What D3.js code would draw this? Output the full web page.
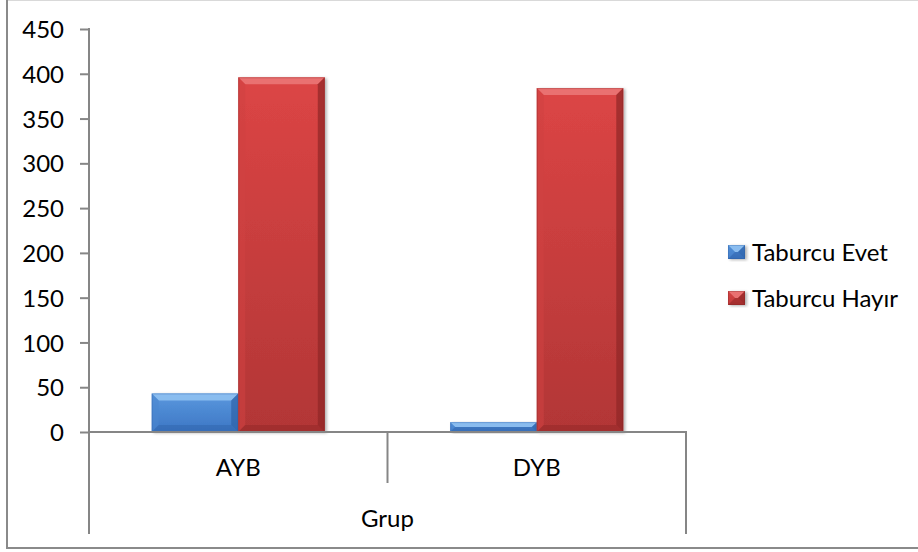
<!DOCTYPE html>
<html>
<head>
<meta charset="utf-8">
<script src="https://cdn.jsdelivr.net/npm/d3@7"></script>
<style>
  html, body { margin: 0; padding: 0; background: #fff; }
  svg { display: block; }
  text { font-family: Lato, "Open Sans", "DejaVu Sans", sans-serif; fill: #000; }
</style>
</head>
<body>
<svg id="chart" width="918" height="552"></svg>
<script>
// Discharge status per group
const groups = ["AYB", "DYB"];
const seriesNames = ["Taburcu Evet", "Taburcu Hayır"];
const evetValues = [43, 11];
const hayirValues = [396, 384];
const yTicks = [0, 50, 100, 150, 200, 250, 300, 350, 400, 450];
const axisTitle = "Grup";

const seriesValues = [evetValues, hayirValues];
const palette = [
  { top: "#5a98de", bot: "#3c76c4", light: "#8dbff0", side: "#4a86d0", dark: "#2f62a8", edge: "#2a5a9e" },
  { top: "#dc4545", bot: "#b23636", light: "#ea7474", side: "#cf4242", dark: "#8e2626", edge: "#7d2020" }
];

const svg = d3.select("#chart");
const W = 918, H = 552;
const plot = { left: 89, right: 686, top: 29, bottom: 432 };
const FONT = 24;

const defs = svg.append("defs");
palette.forEach((p, i) => {
  const g = defs.append("linearGradient").attr("id", "grad" + i)
    .attr("x1", 0).attr("y1", 0).attr("x2", 0).attr("y2", 1);
  g.append("stop").attr("offset", "0%").attr("stop-color", p.top);
  g.append("stop").attr("offset", "100%").attr("stop-color", p.bot);
});
const sh = defs.append("filter").attr("id", "shadow")
  .attr("x", "-10%").attr("y", "-10%").attr("width", "130%").attr("height", "130%");
sh.append("feDropShadow").attr("dx", 2).attr("dy", 1).attr("stdDeviation", 1.6)
  .attr("flood-color", "#000").attr("flood-opacity", 0.3);

// Chart frame
svg.append("rect").attr("x", 6.5).attr("y", 0.5).attr("width", W + 10).attr("height", 547)
  .attr("fill", "#fff").attr("stroke", "#d9d9d9").attr("stroke-width", 1);
svg.append("line").attr("x1", 7).attr("x2", 7).attr("y1", 0).attr("y2", 549)
  .attr("stroke", "#8a8a8a").attr("stroke-width", 2);
svg.append("line").attr("x1", 6).attr("x2", W).attr("y1", 548).attr("y2", 548)
  .attr("stroke", "#8a8a8a").attr("stroke-width", 2);

// Scales
const x = d3.scaleBand().domain(groups).range([plot.left, plot.right]).paddingInner(0).paddingOuter(0);
const xs = d3.scaleBand().domain(d3.range(seriesNames.length)).range([0, x.bandwidth()])
  .paddingInner(0).paddingOuter(0.725);
const y = d3.scaleLinear().domain([0, 450]).range([plot.bottom, plot.top]);

// Bevelled bar drawn as five faces
function bevelBar(g, x0, y0, w, h, p, gi) {
  const b = Math.min(7, h / 2, w / 2);
  const x1 = x0 + w, y1 = y0 + h;
  g.append("rect").attr("x", x0).attr("y", y0).attr("width", w).attr("height", h)
    .attr("fill", `url(#grad${gi})`).attr("filter", "url(#shadow)");
  const poly = (pts, fill, op) => g.append("polygon")
    .attr("points", pts.map(d => d.join(",")).join(" "))
    .attr("fill", fill).attr("opacity", op);
  poly([[x0, y0], [x1, y0], [x1 - b, y0 + b], [x0 + b, y0 + b]], p.light, 0.95);
  poly([[x0, y0], [x0 + b, y0 + b], [x0 + b, y1 - b], [x0, y1]], p.side, 0.55);
  poly([[x1, y0], [x1, y1], [x1 - b, y1 - b], [x1 - b, y0 + b]], p.dark, 0.7);
  poly([[x0, y1], [x0 + b, y1 - b], [x1 - b, y1 - b], [x1, y1]], p.dark, 0.45);
  g.append("rect").attr("x", x0 + 0.5).attr("y", y0 + 0.5).attr("width", w - 1).attr("height", h - 1)
    .attr("fill", "none").attr("stroke", p.edge).attr("stroke-opacity", 0.3);
}

const bars = svg.append("g");
groups.forEach((grp, gi) => {
  seriesValues.forEach((vals, si) => {
    const bx = x(grp) + xs(si);
    const by = y(vals[gi]);
    bevelBar(bars, bx, by, xs.bandwidth(), y(0) - by, palette[si], si);
  });
});

// Y axis
const yAxis = svg.append("g").attr("transform", `translate(${plot.left},0)`)
  .call(d3.axisLeft(y).tickValues(yTicks).tickSize(9).tickPadding(16).tickSizeOuter(0));
yAxis.select(".domain").remove();
yAxis.selectAll(".tick line").attr("stroke", "#868686").attr("stroke-width", 2);
yAxis.selectAll(".tick text").attr("font-size", FONT).attr("dy", "0.36em")
  .style("font-family", 'Lato, "Open Sans", sans-serif');
svg.append("line").attr("x1", plot.left).attr("x2", plot.left).attr("y1", plot.top - 1).attr("y2", 534)
  .attr("stroke", "#868686").attr("stroke-width", 2);

// X axis and multi-level category boxes
svg.append("line").attr("x1", plot.left).attr("x2", plot.right + 1).attr("y1", plot.bottom).attr("y2", plot.bottom)
  .attr("stroke", "#868686").attr("stroke-width", 2);
groups.forEach((grp, gi) => {
  const xr = x(grp) + x.bandwidth();
  const last = gi === groups.length - 1;
  svg.append("line").attr("x1", xr).attr("x2", xr).attr("y1", plot.bottom).attr("y2", last ? 534 : 483)
    .attr("stroke", "#868686").attr("stroke-width", 2);
  svg.append("text").attr("x", x(grp) + x.bandwidth() / 2).attr("y", 467).attr("dy", "0.36em")
    .attr("text-anchor", "middle").attr("font-size", FONT).text(grp);
});
svg.append("text").attr("x", (plot.left + plot.right) / 2).attr("y", 518).attr("dy", "0.36em")
  .attr("text-anchor", "middle").attr("font-size", FONT).text(axisTitle);

// Legend
const legend = svg.append("g");
seriesNames.forEach((name, i) => {
  const ly = 252 + i * 46;
  bevelBar(legend, 728, ly - 7, 17, 14, palette[i], i);
  legend.append("text").attr("x", 752).attr("y", ly).attr("dy", "0.36em")
    .attr("font-size", FONT).text(name);
});
</script>
</body>
</html>
